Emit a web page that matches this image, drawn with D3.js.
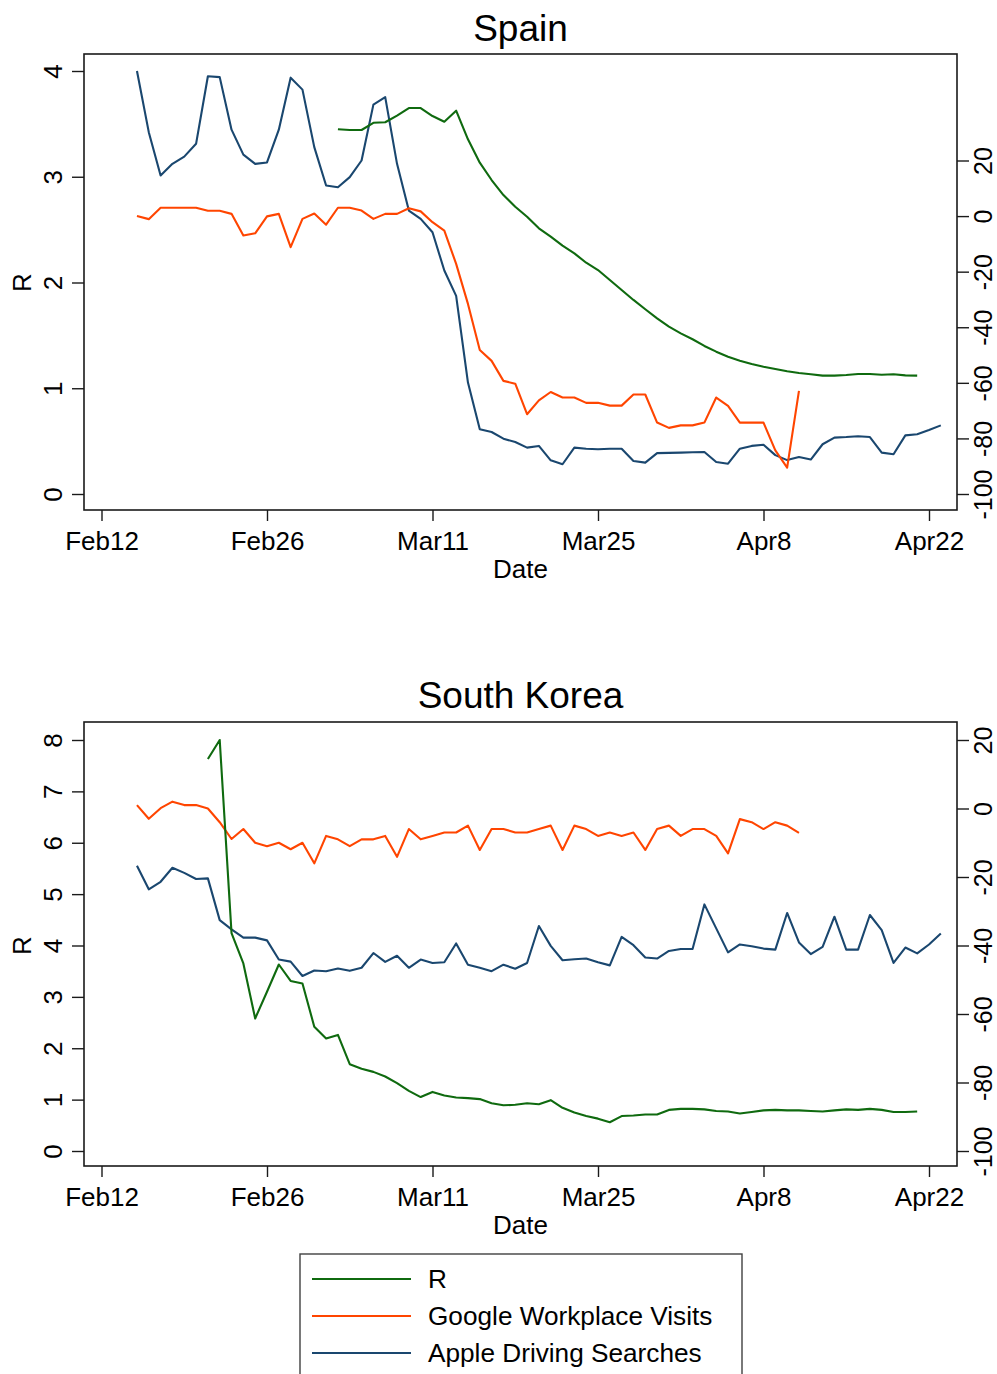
<!DOCTYPE html>
<html><head><meta charset="utf-8">
<script src="https://cdn.jsdelivr.net/npm/d3@7"></script>
<style>
body{margin:0;background:#fff}
svg{display:block}
text{font-family:"Liberation Sans",Arial,Helvetica,sans-serif;fill:#000}
</style>
</head><body>
<svg id="c" width="997" height="1374"></svg>
<script>
// ---------- data ----------
const xTickDates = ["2020-02-12","2020-02-26","2020-03-11","2020-03-25","2020-04-08","2020-04-22"];
const xTickLabels = ["Feb12","Feb26","Mar11","Mar25","Apr8","Apr22"];
const spainLeftTicks = [0,1,2,3,4];
const koreaLeftTicks = [0,1,2,3,4,5,6,7,8];
const rightTicks = [-100,-80,-60,-40,-20,0,20];
const seriesNames = ["R","Google Workplace Visits","Apple Driving Searches"];

const mobilityStart = "2020-02-15";
const spainRStart = "2020-03-03";
const koreaRStart = "2020-02-21";

const spainApple = [52.2,30.2,14.6,18.8,21.4,26.0,50.3,50.0,31.1,22.1,18.8,19.3,31.1,49.8,45.5,
  24.8,11.0,10.4,14.0,20.0,40.1,42.8,18.8,2.0,-1.0,-5.8,-19.6,-28.7,-59.9,-76.7,-77.7,-80.1,-81.3,-83.3,-82.7,
  -87.9,-89.3,-83.3,-83.7,-83.9,-83.7,-83.7,-88.1,-88.7,-85.3,-85.2,
  -85.1,-85.0,-84.9,-88.5,-89.1,-83.7,-82.7,-82.3,-86.0,-87.8,-86.7,-87.6,-82.1,-79.7,-79.5,-79.2,-79.5,-85.1,-85.7,-78.9,
  -78.5,-77.0,-75.3];
const spainGoogle = [0,-1.1,3,3,3,3,1.9,1.9,0.8,-7.0,-6.2,-0.1,0.8,-11.2,-1.0,
  0.9,-3.1,3.0,3.0,2.0,-1.0,0.8,0.8,2.8,1.7,-2.2,-5.2,-17.2,-31.6,-48.2,-52.1,-59.3,-60.3,-71.3,-66.3,
  -63.3,-65.3,-65.3,-67.2,-67.2,-68.2,-68.2,-64.2,-64.2,-74.3,-76.2,
  -75.3,-75.3,-74.3,-65.3,-68.3,-74.3,-74.3,-74.3,-84.3,-90.5,-62.9];
const spainR = [3.449,3.442,3.442,3.51,3.515,3.578,3.65,3.65,3.574,3.52,3.625,3.354,3.133,2.969,2.827,2.717,2.622,
  2.512,2.433,2.348,2.276,2.187,2.118,2.024,1.929,1.835,1.747,1.661,1.582,
  1.519,1.463,1.40,1.346,1.298,1.261,1.229,1.204,1.182,1.16,1.144,1.132,1.119,1.119,1.125,1.135,1.135,1.128,1.132,1.122,1.119];

const koreaApple = [-16.7,-23.6,-21.4,-17.3,-18.8,-20.6,-20.4,-32.6,-35.3,-37.7,-37.7,-38.5,-44.1,-44.7,-48.9,
  -47.3,-47.5,-46.7,-47.4,-46.5,-42.2,-44.8,-43.0,-46.5,-44.1,-45.1,-44.9,-39.4,-45.6,-46.5,-47.5,-45.6,-46.8,-45.1,-34.3,
  -40.1,-44.3,-44.0,-43.8,-44.9,-45.8,-37.5,-39.9,-43.5,-43.8,-41.6,
  -41.0,-41.0,-28.0,-35.0,-42.0,-39.7,-40.2,-40.9,-41.2,-30.5,-39.1,-42.5,-40.4,-31.6,-41.2,-41.2,-31.1,-35.5,-45.1,-40.6,
  -42.3,-39.7,-36.5];
const koreaGoogle = [1.0,-3.0,0.1,2.0,1.0,1.0,0,-4.0,-8.9,-6.0,-10.0,-11.0,-10.0,-11.9,-10.0,
  -16.0,-8.0,-9.0,-11.0,-9.0,-9.0,-8.0,-14.1,-6.0,-9.0,-8.0,-7.0,-7.0,-5.0,-12.1,-6.0,-6.0,-7.0,-7.0,-6.0,
  -5.0,-12.1,-5.0,-6.0,-8.0,-7.0,-8.0,-7.0,-12.1,-6.0,-5.0,
  -8.0,-6.0,-6.0,-8.0,-13.1,-3.1,-4.0,-6.0,-4.0,-5.0,-7.1];
const koreaR = [7.63,8.0,4.24,3.65,2.58,3.10,3.63,3.31,3.26,
  2.42,2.19,2.26,1.69,1.60,1.54,1.45,1.32,1.17,1.05,1.15,1.08,1.04,1.03,1.01,0.93,0.89,0.90,0.93,0.91,
  0.99,0.84,0.75,0.68,0.63,0.56,0.68,0.69,0.71,0.71,0.80,
  0.82,0.82,0.81,0.78,0.77,0.73,0.76,0.79,0.80,0.79,0.79,0.78,0.77,0.79,0.81,0.80,0.82,0.80,0.76,0.76,0.77];

const colors = {R:"#0f6a0f", google:"#ff4500", apple:"#1a476f"};

// ---------- drawing ----------
const parse = d3.utcParse("%Y-%m-%d");
const svg = d3.select("#c");
const fontTick = 26;
const plainNum = d => String(d);   // hyphen-minus as in the reference

function toPoints(start, values){
  const s = parse(start);
  return values.map((v,i)=>({d:d3.utcDay.offset(s,i), v}));
}

const x = d3.scaleUtc()
  .domain([parse(xTickDates[0]), parse(xTickDates[xTickDates.length-1])])
  .range([101.5, 929]);

function panel(o){
  const g = svg.append("g");
  const left = 84, right = 957;
  const yL = d3.scaleLinear().domain(o.leftDomain).range([o.zeroY, o.topY]);
  const yR = d3.scaleLinear().domain([-100,20]).range([o.zeroY, o.r20Y]);

  // title
  g.append("text").attr("x",(left+right)/2).attr("y",o.titleY)
    .attr("text-anchor","middle").style("font-size","37px").text(o.title);

  // lines
  const lineL = d3.line().x(p=>x(p.d)).y(p=>yL(p.v));
  const lineR = d3.line().x(p=>x(p.d)).y(p=>yR(p.v));
  const lines = g.append("g").attr("fill","none").attr("stroke-width",2.1).attr("stroke-linejoin","round");
  lines.append("path").attr("d",lineR(toPoints(mobilityStart,o.apple))).attr("stroke",colors.apple);
  lines.append("path").attr("d",lineR(toPoints(mobilityStart,o.google))).attr("stroke",colors.google);
  lines.append("path").attr("d",lineL(toPoints(o.rStart,o.r))).attr("stroke",colors.R);

  // frame
  g.append("rect").attr("x",left).attr("y",o.frameTop).attr("width",right-left).attr("height",o.frameBottom-o.frameTop)
    .attr("fill","none").attr("stroke","#1a1a1a").attr("stroke-width",1.6);

  // left axis
  const ax = g.append("g").attr("transform",`translate(${left},0)`)
    .call(d3.axisLeft(yL).tickValues(o.leftTicks).tickFormat(plainNum).tickSize(12));
  ax.select(".domain").remove();
  ax.selectAll(".tick line").attr("stroke","#1a1a1a").attr("stroke-width",1.4);
  ax.selectAll(".tick text").attr("x",null).attr("dy",null).attr("y",0)
    .attr("transform","translate(-22,0) rotate(-90)").attr("text-anchor","middle")
    .style("font-size",fontTick+"px").attr("fill","#000");

  // right axis
  const ar = g.append("g").attr("transform",`translate(${right},0)`)
    .call(d3.axisRight(yR).tickValues(rightTicks).tickFormat(plainNum).tickSize(12));
  ar.select(".domain").remove();
  ar.selectAll(".tick line").attr("stroke","#1a1a1a").attr("stroke-width",1.4);
  ar.selectAll(".tick text").attr("x",null).attr("dy",null).attr("y",0)
    .attr("transform","translate(35,0) rotate(-90)").attr("text-anchor","middle")
    .style("font-size","25px").attr("fill","#000");

  // bottom axis
  const ab = g.append("g").attr("transform",`translate(0,${o.frameBottom})`)
    .call(d3.axisBottom(x).tickValues(xTickDates.map(parse)).tickFormat((d,i)=>xTickLabels[i]).tickSize(11).tickPadding(11));
  ab.select(".domain").remove();
  ab.selectAll(".tick line").attr("stroke","#1a1a1a").attr("stroke-width",1.4);
  ab.selectAll(".tick text").style("font-size",fontTick+"px").attr("fill","#000");

  // axis titles
  g.append("text").attr("x",(left+right)/2).attr("y",o.frameBottom+68)
    .attr("text-anchor","middle").style("font-size",fontTick+"px").text("Date");
  g.append("text").attr("transform",`translate(31,${(o.zeroY+o.topY)/2}) rotate(-90)`)
    .attr("text-anchor","middle").style("font-size",fontTick+"px").text("R");
}

panel({title:"Spain", titleY:41, frameTop:54, frameBottom:510, zeroY:494, topY:71, r20Y:160.5,
  leftDomain:[0,4], leftTicks:spainLeftTicks, apple:spainApple, google:spainGoogle, r:spainR, rStart:spainRStart});
panel({title:"South Korea", titleY:708, frameTop:722, frameBottom:1166, zeroY:1151, topY:740, r20Y:740,
  leftDomain:[0,8], leftTicks:koreaLeftTicks, apple:koreaApple, google:koreaGoogle, r:koreaR, rStart:koreaRStart});

// legend
const lg = svg.append("g");
lg.append("rect").attr("x",300).attr("y",1254).attr("width",442).attr("height",200)
  .attr("fill","#fff").attr("stroke","#404040").attr("stroke-width",1.4);
const legColors = [colors.R, colors.google, colors.apple];
seriesNames.forEach((n,i)=>{
  const y = 1279 + i*37;
  lg.append("line").attr("x1",312).attr("x2",411).attr("y1",y).attr("y2",y)
    .attr("stroke",legColors[i]).attr("stroke-width",2.1);
  lg.append("text").attr("x",428).attr("y",y+9).style("font-size","26.2px").text(n);
});
</script>
</body></html>
